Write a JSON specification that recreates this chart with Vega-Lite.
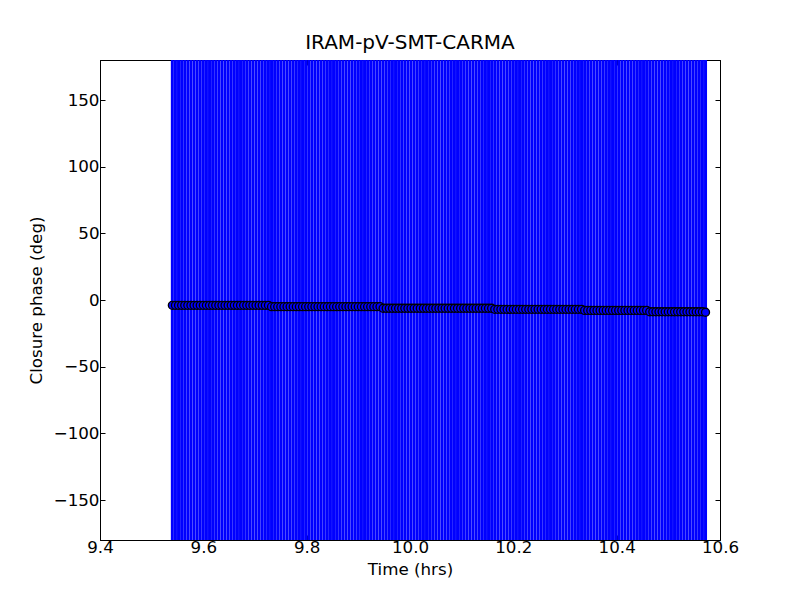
{
  "$schema": "https://vega.github.io/schema/vega-lite/v6.json",
  "width": 620,
  "height": 480,
  "autosize": {"type": "none"},
  "padding": {"left": 100, "top": 60, "right": 80, "bottom": 60},
  "background": "white",
  "title": {"text": "IRAM-pV-SMT-CARMA", "font": "DejaVu Sans", "fontSize": 20, "fontWeight": "normal", "color": "black", "offset": 6},
  "config": {
    "view": {"stroke": "black", "strokeWidth": 1},
    "axis": {"grid": false, "domainColor": "black", "tickColor": "black", "labelColor": "black", "titleColor": "black", "labelFont": "DejaVu Sans", "titleFont": "DejaVu Sans", "labelFontSize": 16.7, "titleFontSize": 16.7, "titleFontWeight": "normal", "tickSize": -5, "labelFlush": false}
  },
  "data": {"values": [
    {"t":9.540,"cp":-4.0},{"t":9.546,"cp":-4.0},{"t":9.552,"cp":-4.0},{"t":9.558,"cp":-4.0},{"t":9.564,"cp":-4.0},{"t":9.570,"cp":-4.0},{"t":9.576,"cp":-4.0},{"t":9.582,"cp":-4.0},{"t":9.588,"cp":-4.0},{"t":9.594,"cp":-4.0},{"t":9.600,"cp":-4.0},{"t":9.606,"cp":-4.0},{"t":9.612,"cp":-4.0},{"t":9.618,"cp":-4.0},{"t":9.624,"cp":-4.0},{"t":9.630,"cp":-4.0},{"t":9.636,"cp":-4.0},{"t":9.642,"cp":-4.0},{"t":9.648,"cp":-4.0},{"t":9.654,"cp":-4.0},{"t":9.660,"cp":-4.0},{"t":9.666,"cp":-4.0},{"t":9.672,"cp":-4.0},{"t":9.678,"cp":-4.0},{"t":9.684,"cp":-4.0},{"t":9.690,"cp":-4.0},{"t":9.696,"cp":-4.0},{"t":9.702,"cp":-4.0},{"t":9.708,"cp":-4.0},{"t":9.714,"cp":-4.0},{"t":9.720,"cp":-4.0},{"t":9.726,"cp":-4.0},
    {"t":9.732,"cp":-5.0},{"t":9.738,"cp":-5.0},{"t":9.744,"cp":-5.0},{"t":9.750,"cp":-5.0},{"t":9.756,"cp":-5.0},{"t":9.762,"cp":-5.0},{"t":9.768,"cp":-5.0},{"t":9.774,"cp":-5.0},{"t":9.780,"cp":-5.0},{"t":9.786,"cp":-5.0},{"t":9.792,"cp":-5.0},{"t":9.798,"cp":-5.0},{"t":9.804,"cp":-5.0},{"t":9.810,"cp":-5.0},{"t":9.816,"cp":-5.0},{"t":9.822,"cp":-5.0},{"t":9.828,"cp":-5.0},{"t":9.834,"cp":-5.0},{"t":9.840,"cp":-5.0},{"t":9.846,"cp":-5.0},{"t":9.852,"cp":-5.0},{"t":9.858,"cp":-5.0},{"t":9.864,"cp":-5.0},{"t":9.870,"cp":-5.0},{"t":9.876,"cp":-5.0},{"t":9.882,"cp":-5.0},{"t":9.888,"cp":-5.0},{"t":9.894,"cp":-5.0},{"t":9.900,"cp":-5.0},{"t":9.906,"cp":-5.0},{"t":9.912,"cp":-5.0},{"t":9.918,"cp":-5.0},{"t":9.924,"cp":-5.0},{"t":9.930,"cp":-5.0},{"t":9.936,"cp":-5.0},{"t":9.942,"cp":-5.0},
    {"t":9.948,"cp":-6.2},{"t":9.954,"cp":-6.2},{"t":9.960,"cp":-6.2},{"t":9.966,"cp":-6.2},{"t":9.972,"cp":-6.2},{"t":9.978,"cp":-6.2},{"t":9.984,"cp":-6.2},{"t":9.990,"cp":-6.2},{"t":9.996,"cp":-6.2},{"t":10.002,"cp":-6.2},{"t":10.008,"cp":-6.2},{"t":10.014,"cp":-6.2},{"t":10.020,"cp":-6.2},{"t":10.026,"cp":-6.2},{"t":10.032,"cp":-6.2},{"t":10.038,"cp":-6.2},{"t":10.044,"cp":-6.2},{"t":10.050,"cp":-6.2},{"t":10.056,"cp":-6.2},{"t":10.062,"cp":-6.2},{"t":10.068,"cp":-6.2},{"t":10.074,"cp":-6.2},{"t":10.080,"cp":-6.2},{"t":10.086,"cp":-6.2},{"t":10.092,"cp":-6.2},{"t":10.098,"cp":-6.2},{"t":10.104,"cp":-6.2},{"t":10.110,"cp":-6.2},{"t":10.116,"cp":-6.2},{"t":10.122,"cp":-6.2},{"t":10.128,"cp":-6.2},{"t":10.134,"cp":-6.2},{"t":10.140,"cp":-6.2},{"t":10.146,"cp":-6.2},{"t":10.152,"cp":-6.2},{"t":10.158,"cp":-6.2},
    {"t":10.164,"cp":-7.0},{"t":10.170,"cp":-7.0},{"t":10.176,"cp":-7.0},{"t":10.182,"cp":-7.0},{"t":10.188,"cp":-7.0},{"t":10.194,"cp":-7.0},{"t":10.200,"cp":-7.0},{"t":10.206,"cp":-7.0},{"t":10.212,"cp":-7.0},{"t":10.218,"cp":-7.0},{"t":10.224,"cp":-7.0},{"t":10.230,"cp":-7.0},{"t":10.236,"cp":-7.0},{"t":10.242,"cp":-7.0},{"t":10.248,"cp":-7.0},{"t":10.254,"cp":-7.0},{"t":10.260,"cp":-7.0},{"t":10.266,"cp":-7.0},{"t":10.272,"cp":-7.0},{"t":10.278,"cp":-7.0},{"t":10.284,"cp":-7.0},{"t":10.290,"cp":-7.0},{"t":10.296,"cp":-7.0},{"t":10.302,"cp":-7.0},{"t":10.308,"cp":-7.0},{"t":10.314,"cp":-7.0},{"t":10.320,"cp":-7.0},{"t":10.326,"cp":-7.0},{"t":10.332,"cp":-7.0},
    {"t":10.338,"cp":-7.8},{"t":10.344,"cp":-7.8},{"t":10.350,"cp":-7.8},{"t":10.356,"cp":-7.8},{"t":10.362,"cp":-7.8},{"t":10.368,"cp":-7.8},{"t":10.374,"cp":-7.8},{"t":10.380,"cp":-7.8},{"t":10.386,"cp":-7.8},{"t":10.392,"cp":-7.8},{"t":10.398,"cp":-7.8},{"t":10.404,"cp":-7.8},{"t":10.410,"cp":-7.8},{"t":10.416,"cp":-7.8},{"t":10.422,"cp":-7.8},{"t":10.428,"cp":-7.8},{"t":10.434,"cp":-7.8},{"t":10.440,"cp":-7.8},{"t":10.446,"cp":-7.8},{"t":10.452,"cp":-7.8},{"t":10.458,"cp":-7.8},
    {"t":10.464,"cp":-8.8},{"t":10.470,"cp":-8.8},{"t":10.476,"cp":-8.8},{"t":10.482,"cp":-8.8},{"t":10.488,"cp":-8.8},{"t":10.494,"cp":-8.8},{"t":10.500,"cp":-8.8},{"t":10.506,"cp":-8.8},{"t":10.512,"cp":-8.8},{"t":10.518,"cp":-8.8},{"t":10.524,"cp":-8.8},{"t":10.530,"cp":-8.8},{"t":10.536,"cp":-8.8},{"t":10.542,"cp":-8.8},{"t":10.548,"cp":-8.8},{"t":10.554,"cp":-8.8},{"t":10.560,"cp":-8.8},{"t":10.566,"cp":-8.8},{"t":10.572,"cp":-9.2}
  ]},
  "layer": [
    {
      "mark": {"type": "rule", "color": "#0000ff", "strokeWidth": 3},
      "encoding": {
        "x": {"field": "t", "type": "quantitative", "scale": {"domain": [9.4, 10.6], "nice": false, "zero": false}, "axis": {"orient": "bottom", "values": [9.4, 9.6, 9.8, 10.0, 10.2, 10.4, 10.6], "format": ".1f", "title": "Time (hrs)", "labelPadding": 4, "titlePadding": 6}},
        "y": {"datum": -180, "type": "quantitative", "scale": {"domain": [-180, 180], "nice": false, "zero": false}, "axis": {"orient": "left", "values": [-150, -100, -50, 0, 50, 100, 150], "format": "d", "title": "Closure phase (deg)", "labelPadding": 6, "titlePadding": 8}},
        "y2": {"datum": 180}
      }
    },
    {
      "mark": {"type": "point", "shape": "circle", "filled": true, "fill": "#0000ff", "stroke": "black", "strokeWidth": 1.3, "size": 64, "opacity": 1},
      "encoding": {
        "x": {"field": "t", "type": "quantitative", "axis": {"orient": "top", "values": [9.4, 9.6, 9.8, 10.0, 10.2, 10.4, 10.6], "labels": false, "title": null}},
        "y": {"field": "cp", "type": "quantitative", "axis": {"orient": "right", "values": [-150, -100, -50, 0, 50, 100, 150], "labels": false, "title": null}}
      }
    }
  ],
  "resolve": {"axis": {"x": "independent", "y": "independent"}}
}
